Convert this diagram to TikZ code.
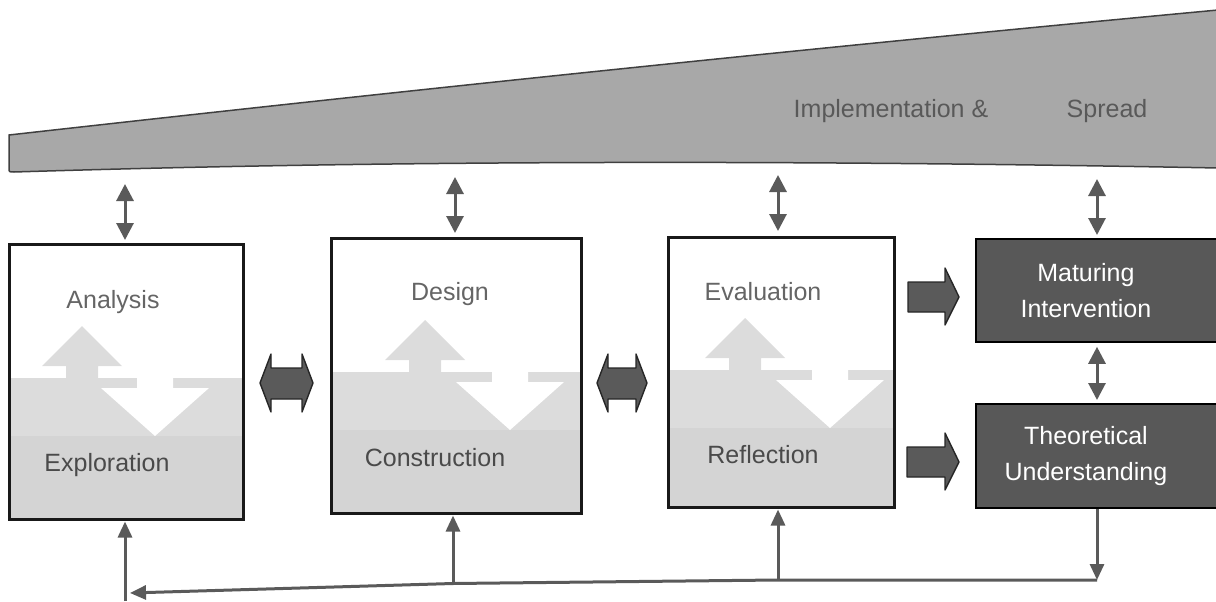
\documentclass[tikz,border=0pt]{standalone}
\usepackage{fontspec}
\setmainfont{Liberation Sans}
\usetikzlibrary{arrows.meta}
\definecolor{bandgray}{HTML}{A8A8A8}
\definecolor{bandtext}{HTML}{595959}
\definecolor{lightzone}{HTML}{DCDCDC}
\definecolor{darkzone}{HTML}{D4D4D4}
\definecolor{arrowgray}{HTML}{5A5A5A}
\definecolor{outcome}{HTML}{585858}
\definecolor{labelgray}{HTML}{4A4A4A}

% Shaded lower half of a phase box with its up/down arrows.
% #1 left x, #2 right x, #3 top of grey zone, #4 bottom, #5 up-arrow x, #6 down-arrow x
\newcommand\phaseshade[6]{%
  \fill[lightzone] (#1,#3) rectangle (#2,#4);
  \fill[darkzone] (#1,{#3+58}) rectangle (#2,#4);
  \fill[lightzone] (#5,{#3-52}) -- ({#5+40},{#3-12}) -- ({#5+16},{#3-12})
     -- ({#5+16},#3) -- ({#5-16},#3) -- ({#5-16},{#3-12}) -- ({#5-40},{#3-12}) -- cycle;
  \fill[white] ({#6-18},{#3-1}) -- ({#6+18},{#3-1}) -- ({#6+18},{#3+10})
     -- ({#6+54},{#3+10}) -- (#6,{#3+58}) -- ({#6-54},{#3+10}) -- ({#6-18},{#3+10}) -- cycle;
}

\tikzset{
  phasebox/.style={draw=black!90, line width=2.5pt, anchor=north west, inner sep=0pt},
  outcomebox/.style={draw=black, line width=1.8pt, fill=outcome, anchor=north west,
     inner sep=0pt, text=white, align=center, font=\fontsize{25}{36}\selectfont},
  phaselabel/.style={text=labelgray, font=\fontsize{25}{28}\selectfont, inner sep=0pt},
  bandlabel/.style={text=bandtext, font=\fontsize{25}{28}\selectfont, inner sep=0pt},
  linkarrow/.style={draw=arrowgray, line width=3pt,
     {Triangle[length=17pt,width=17pt,fill=arrowgray]}-{Triangle[length=17pt,width=17pt,fill=arrowgray]}},
  feedline/.style={draw=arrowgray, line width=3pt},
  feedtip/.style={feedline, -{Triangle[length=16pt,width=14pt,fill=arrowgray]}},
  blockarrow/.style={fill=arrowgray, draw=black!85, line width=1.4pt, line join=round}
}

\begin{document}
\begin{tikzpicture}[x=1pt,y=-1pt]
\useasboundingbox (0,0) rectangle (1216,602);

% widening band along the top
\path[fill=bandgray, draw=black!75, line width=1.5pt]
  (9,135) .. controls (410,90) and (810,48) .. (1218,10) -- (1218,168)
  .. controls (800,160) and (400,160) .. (14,172) .. controls (9,172) .. (9,168) -- cycle;
\node[bandlabel] (impl) at (891,111) {Implementation \&};
\node[bandlabel] (spread) at (1107,111) {Spread};
\coordinate (b1) at (125,184);
\coordinate (b2) at (455,177);
\coordinate (b3) at (778,175);
\coordinate (b4) at (1097,179);

% phase boxes
\phaseshade{8}{242}{378}{518}{82}{155}
\phaseshade{330}{580}{372}{512}{425}{510}
\phaseshade{667}{893}{370}{506}{745}{830}
\node[phasebox, minimum width=234pt, minimum height=275pt] (anal) at (8,243) {};
\node[phasebox, minimum width=250pt, minimum height=275pt] (des) at (330,237) {};
\node[phasebox, minimum width=226pt, minimum height=270pt] (eval) at (667,236) {};

\node[phaselabel, text=labelgray!85] (ta) at (113,302) {Analysis};
\node[phaselabel] (te) at (107,465) {Exploration};
\node[phaselabel, text=labelgray!85] (td) at (450,294) {Design};
\node[phaselabel] (tc) at (435,458) {Construction};
\node[phaselabel, text=labelgray!85] (tv) at (763,292) {Evaluation};
\node[phaselabel] (tr) at (763,455) {Reflection};

% outcome boxes
\node[outcomebox, minimum width=250pt, minimum height=103pt] (mat) at (975,238)
  {\hspace*{-30pt}Maturing\\\hspace*{-30pt}Intervention};
\node[outcomebox, minimum width=250pt, minimum height=104pt] (theo) at (975,403)
  {\hspace*{-30pt}Theoretical\\\hspace*{-30pt}Understanding};

% links between band and boxes
\draw[linkarrow, shorten >=3pt] (b1) -- (b1 |- anal.north);
\draw[linkarrow, shorten >=4pt] (b2) -- (b2 |- des.north);
\draw[linkarrow, shorten >=5pt] (b3) -- (b3 |- eval.north);
\draw[linkarrow, shorten >=3pt] (b4) -- (b4 |- mat.north);
\draw[linkarrow, shorten <=4pt, shorten >=3pt] (b4 |- mat.south) -- (b4 |- theo.north);

% double block arrows between phases
\path[blockarrow] (260,383) -- (271,354) -- (271,368) -- (302,368) -- (302,354)
  -- (313,383) -- (302,412) -- (302,399) -- (271,399) -- (271,412) -- cycle;
\path[blockarrow] (597,383) -- (608,354) -- (608,368) -- (636,368) -- (636,354)
  -- (647,383) -- (636,412) -- (636,399) -- (608,399) -- (608,412) -- cycle;

% block arrows toward the outcomes
\path[blockarrow] (908,282) -- (945,282) -- (945,268) -- (959,297) -- (945,325)
  -- (945,312) -- (908,312) -- cycle;
\path[blockarrow] (907,447) -- (945,447) -- (945,433) -- (959,462) -- (945,490)
  -- (945,477) -- (907,477) -- cycle;

% feedback loop along the bottom
\coordinate (c4) at (1097,580);
\coordinate (c3) at (778,580);
\coordinate (c2) at (453,583.5);
\coordinate (c1) at (130,593);
\coordinate (c0) at (125,601);
\draw[feedtip] (theo.south -| c4) -- (c4);
\draw[feedline] (c4) -- (c3) -- (c2);
\draw[feedtip] (c2) -- (c1);
\draw[feedtip, shorten >=1pt] (c0) -- (c0 |- anal.south);
\draw[feedtip, shorten >=1pt] (c2) -- (c2 |- des.south);
\draw[feedtip, shorten >=1pt] (c3) -- (c3 |- eval.south);
\end{tikzpicture}
\end{document}
